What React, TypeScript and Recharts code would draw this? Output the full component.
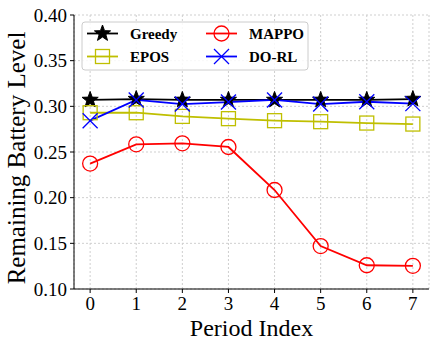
import React from 'react';
import { LineChart, Line, XAxis, YAxis, CartesianGrid } from 'recharts';

// values
const periods = [0, 1, 2, 3, 4, 5, 6, 7];
const greedy = [0.307, 0.308, 0.307, 0.307, 0.307, 0.307, 0.307, 0.308];
const epos = [0.293, 0.293, 0.289, 0.2865, 0.2843, 0.2832, 0.2817, 0.2806];
const mappo = [0.2373, 0.2584, 0.2595, 0.2555, 0.2084, 0.147, 0.126, 0.1254];
const dorl = [0.2843, 0.307, 0.3025, 0.3047, 0.307, 0.3025, 0.305, 0.303];
const yTicks = [0.1, 0.15, 0.2, 0.25, 0.3, 0.35, 0.4];

const data = periods.map((p, i) => ({
  period: p,
  greedy: greedy[i],
  epos: epos[i],
  mappo: mappo[i],
  dorl: dorl[i],
}));

const FONT = "'Liberation Serif', 'Times New Roman', serif";
const OLIVE = '#bfbf00';

function starPath(cx: number, cy: number, ro: number, ri: number) {
  const pts: string[] = [];
  for (let k = 0; k < 10; k++) {
    const r = k % 2 === 0 ? ro : ri;
    const a = (-90 + k * 36) * Math.PI / 180;
    pts.push(`${(cx + r * Math.cos(a)).toFixed(2)},${(cy + r * Math.sin(a)).toFixed(2)}`);
  }
  return 'M' + pts.join('L') + 'Z';
}

const StarMark = ({ cx, cy }: { cx: number; cy: number }) => (
  <path d={starPath(cx, cy, 8.5, 3.5)} fill="#000" stroke="#000" strokeWidth={1} />
);
const SquareMark = ({ cx, cy }: { cx: number; cy: number }) => (
  <rect x={cx - 7} y={cy - 7} width={14} height={14} fill="none" stroke={OLIVE} strokeWidth={1.3} />
);
const CircleMark = ({ cx, cy }: { cx: number; cy: number }) => (
  <circle cx={cx} cy={cy} r={7.5} fill="none" stroke="#ff0000" strokeWidth={1.3} />
);
const CrossMark = ({ cx, cy }: { cx: number; cy: number }) => (
  <g stroke="#0000ff" strokeWidth={1.3}>
    <line x1={cx - 7.5} y1={cy - 7.5} x2={cx + 7.5} y2={cy + 7.5} />
    <line x1={cx - 7.5} y1={cy + 7.5} x2={cx + 7.5} y2={cy - 7.5} />
  </g>
);

const dotOf = (Mark: any) => (p: any) => <Mark key={`d-${p.index}`} cx={p.cx} cy={p.cy} />;

const XTick = (p: any) => (
  <text x={p.x} y={p.y + 14} textAnchor="middle" fontFamily={FONT} fontSize={19} fill="#000">
    {p.payload.value}
  </text>
);
const YTick = (p: any) => (
  <text x={p.x} y={p.y + 6.5} textAnchor="end" fontFamily={FONT} fontSize={19} fill="#000">
    {Number(p.payload.value).toFixed(2)}
  </text>
);

const XLabel = (p: any) => {
  const vb = p.viewBox;
  return (
    <text x={vb.x + vb.width / 2} y={336} textAnchor="middle" fontFamily={FONT} fontSize={24} fill="#000">
      Period Index
    </text>
  );
};
const YLabel = () => (
  <text x={25} y={158} transform="rotate(-90 25 158)" textAnchor="middle" fontFamily={FONT} fontSize={25} fill="#000">
    Remaining Battery Level
  </text>
);

const legendItems = [
  { name: 'Greedy', color: '#000', Mark: StarMark, col: 0, row: 0 },
  { name: 'EPOS', color: OLIVE, Mark: SquareMark, col: 0, row: 1 },
  { name: 'MAPPO', color: '#ff0000', Mark: CircleMark, col: 1, row: 0 },
  { name: 'DO-RL', color: '#0000ff', Mark: CrossMark, col: 1, row: 1 },
];

const LegendBox = () => (
  <svg width={228} height={50} style={{ position: 'absolute', left: 81, top: 21 }}>
    <rect x={1} y={1} width={226} height={48} rx={3} fill="rgba(255,255,255,0.85)" stroke="#cccccc" />
    {legendItems.map((it) => {
      const x0 = it.col === 0 ? 6 : 125;
      const y = it.row === 0 ? 12.5 : 35.5;
      return (
        <g key={it.name}>
          <line x1={x0} y1={y} x2={x0 + 31} y2={y} stroke={it.color} strokeWidth={1.8} />
          <it.Mark cx={x0 + 15.5} cy={y} />
          <text x={x0 + 43} y={y + 5} fontFamily={FONT} fontWeight="bold" fontSize={15} fill="#000">
            {it.name}
          </text>
        </g>
      );
    })}
  </svg>
);

export default function App() {
  return (
    <div style={{ position: 'fixed', left: 0, top: 0, width: 436, height: 349, background: '#fff' }}>
      <LineChart
        width={436}
        height={349}
        data={data}
        margin={{ top: 15, right: 7, bottom: 0, left: 0 }}
      >
        <CartesianGrid stroke="#cfcfcf" strokeDasharray="2 2" />
        <XAxis
          dataKey="period"
          type="number"
          domain={[-0.35, 7.35]}
          ticks={periods}
          allowDataOverflow
          height={60}
          tickSize={4}
          tickMargin={3}
          stroke="#000"
          tick={<XTick />}
          label={<XLabel />}
        />
        <XAxis xAxisId="top" orientation="top" type="number" domain={[-0.35, 7.35]} height={0} tick={false} tickLine={false} stroke="#000" />
        <YAxis
          type="number"
          domain={[0.1, 0.4]}
          ticks={yTicks}
          allowDataOverflow
          width={74}
          tickSize={4}
          tickMargin={3}
          stroke="#000"
          tick={<YTick />}
          label={<YLabel />}
        />
        <YAxis yAxisId="right" orientation="right" domain={[0.1, 0.4]} width={0} tick={false} tickLine={false} stroke="#000" />
        <Line dataKey="greedy" stroke="#000" strokeWidth={1.8} dot={dotOf(StarMark)} isAnimationActive={false} />
        <Line dataKey="epos" stroke={OLIVE} strokeWidth={1.8} dot={dotOf(SquareMark)} isAnimationActive={false} />
        <Line dataKey="mappo" stroke="#ff0000" strokeWidth={1.8} dot={dotOf(CircleMark)} isAnimationActive={false} />
        <Line dataKey="dorl" stroke="#0000ff" strokeWidth={1.8} dot={dotOf(CrossMark)} isAnimationActive={false} />
      </LineChart>
      <LegendBox />
    </div>
  );
}
